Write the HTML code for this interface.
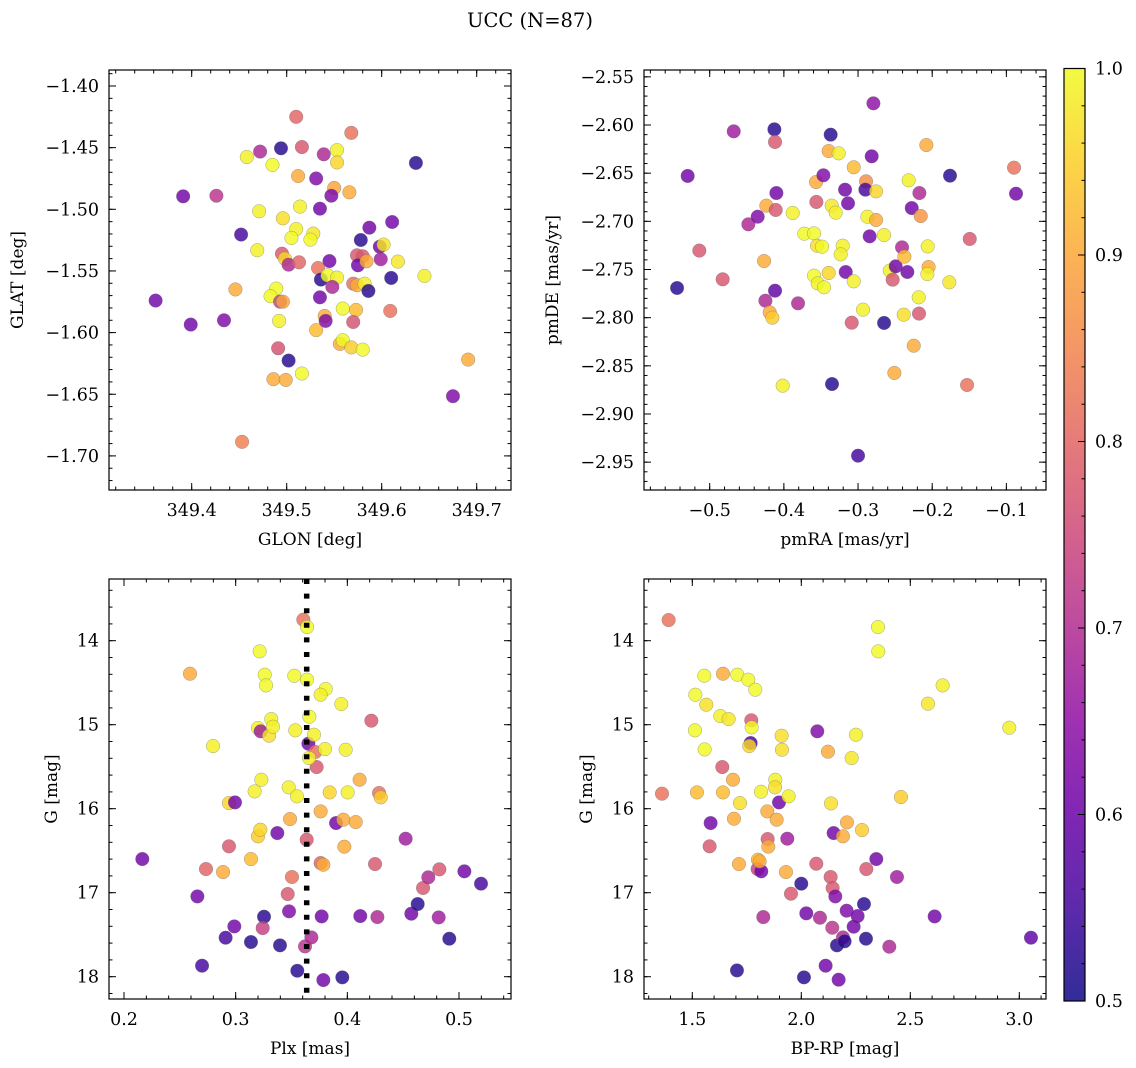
<!DOCTYPE html>
<html><head><meta charset="utf-8"><style>
html,body{margin:0;padding:0;background:#fff;}
svg{display:block;font-family:"DejaVu Serif","Liberation Serif",serif;}
</style></head><body>
<svg id="fig" width="1136" height="1068" viewBox="0 0 1136 1068" xmlns="http://www.w3.org/2000/svg">
<defs>
<linearGradient id="plasmaGrad" x1="0" y1="1" x2="0" y2="0">
<stop offset="0" stop-color="rgb(13,8,135)"/><stop offset="0.1" stop-color="rgb(65,4,157)"/><stop offset="0.2" stop-color="rgb(106,0,168)"/><stop offset="0.3" stop-color="rgb(143,13,164)"/><stop offset="0.4" stop-color="rgb(177,42,144)"/><stop offset="0.5" stop-color="rgb(204,71,120)"/><stop offset="0.6" stop-color="rgb(225,100,98)"/><stop offset="0.7" stop-color="rgb(242,132,75)"/><stop offset="0.8" stop-color="rgb(252,166,54)"/><stop offset="0.9" stop-color="rgb(252,206,37)"/><stop offset="1" stop-color="rgb(240,249,33)"/>
</linearGradient>
</defs>
<text x="530" y="27" text-anchor="middle" font-size="19.5">UCC (N=87)</text>
</svg>
<script>
// ---- Panel 1: GLON vs GLAT ----
const p1Glon=[349.391,349.426,349.362,349.399,349.434,349.446,349.452,349.453,349.458,349.472,349.485,349.471,349.469,349.494,349.510,349.516,349.512,349.531,349.539,349.553,349.553,349.568,349.550,349.547,349.566,349.514,349.535,349.496,349.510,349.505,349.528,349.525,349.495,349.498,349.502,349.513,349.545,349.533,349.536,349.543,349.553,349.548,349.535,349.489,349.483,349.493,349.496,349.492,349.491,349.502,349.516,349.486,349.499,349.531,349.540,349.541,349.559,349.573,349.570,349.556,349.559,349.568,349.580,349.570,349.574,349.582,349.586,349.574,349.580,349.575,349.584,349.578,349.587,349.598,349.602,349.599,349.611,349.617,349.610,349.609,349.636,349.645,349.675,349.691];
const p1Glat=[-1.4895,-1.489,-1.574,-1.5935,-1.590,-1.565,-1.5205,-1.6886,-1.4576,-1.4532,-1.464,-1.5016,-1.5332,-1.4505,-1.425,-1.4495,-1.473,-1.475,-1.4554,-1.452,-1.462,-1.438,-1.4827,-1.489,-1.4862,-1.4978,-1.4995,-1.5073,-1.516,-1.5232,-1.5197,-1.5246,-1.536,-1.540,-1.5449,-1.543,-1.542,-1.5476,-1.557,-1.5535,-1.5554,-1.563,-1.5714,-1.5643,-1.5705,-1.5749,-1.5749,-1.5905,-1.6127,-1.6227,-1.6332,-1.6378,-1.6384,-1.598,-1.5865,-1.5905,-1.5805,-1.5816,-1.5914,-1.6092,-1.6062,-1.612,-1.6138,-1.5603,-1.5616,-1.5603,-1.5662,-1.5373,-1.5381,-1.5454,-1.5422,-1.5249,-1.5149,-1.5303,-1.5286,-1.5405,-1.5103,-1.5424,-1.5557,-1.5824,-1.4624,-1.554,-1.6516,-1.6219];
const p1Prob=[0.6,0.7,0.6,0.6,0.62,0.88,0.55,0.82,0.96,0.68,0.97,0.96,0.96,0.52,0.78,0.76,0.88,0.62,0.68,0.96,0.93,0.8,0.87,0.62,0.88,0.96,0.6,0.94,0.96,0.97,0.95,0.97,0.76,0.93,0.68,0.78,0.6,0.8,0.52,0.97,0.96,0.68,0.6,0.97,0.97,0.72,0.87,0.96,0.75,0.52,0.97,0.88,0.88,0.9,0.88,0.62,0.97,0.9,0.75,0.88,0.97,0.92,0.97,0.8,0.88,0.96,0.52,0.76,0.76,0.6,0.88,0.52,0.6,0.6,0.95,0.66,0.6,0.95,0.52,0.8,0.52,0.96,0.62,0.88];
// ---- Panel 2: pmRA vs pmDE ----
const p2Pmra=[-0.544,-0.5297,-0.514,-0.4825,-0.4676,-0.4479,-0.4353,-0.4236,-0.411,-0.4101,-0.4128,-0.4119,-0.4267,-0.4119,-0.4249,-0.4191,-0.4155,-0.4016,-0.3809,-0.3881,-0.3724,-0.3593,-0.3566,-0.3562,-0.3553,-0.3485,-0.3467,-0.3593,-0.3544,-0.3458,-0.3396,-0.3396,-0.3261,-0.3369,-0.3351,-0.3355,-0.3301,-0.3207,-0.3234,-0.3175,-0.3135,-0.3166,-0.3058,-0.3058,-0.3085,-0.3,-0.2933,-0.2892,-0.2901,-0.2757,-0.2874,-0.2757,-0.2843,-0.2816,-0.2793,-0.2649,-0.2649,-0.2573,-0.2533,-0.2492,-0.251,-0.2407,-0.2375,-0.2335,-0.2384,-0.2317,-0.2276,-0.2173,-0.2155,-0.2249,-0.2182,-0.2178,-0.2079,-0.2061,-0.2049,-0.2065,-0.1769,-0.176,-0.153,-0.1494,-0.0897,-0.087];
const p2Pmde=[-2.7692,-2.6529,-2.7304,-2.7602,-2.6066,-2.7031,-2.6952,-2.6837,-2.6882,-2.6706,-2.6045,-2.6176,-2.7412,-2.772,-2.7824,-2.7945,-2.8,-2.8706,-2.7851,-2.6913,-2.7128,-2.7125,-2.6592,-2.6799,-2.7253,-2.7263,-2.6522,-2.7564,-2.7644,-2.7685,-2.7536,-2.627,-2.6294,-2.61,-2.8689,-2.6837,-2.691,-2.7253,-2.7343,-2.6671,-2.6813,-2.7526,-2.6439,-2.7623,-2.8052,-2.9433,-2.7917,-2.6585,-2.6671,-2.6689,-2.6952,-2.6986,-2.7156,-2.6325,-2.5775,-2.7142,-2.8055,-2.7512,-2.7606,-2.7467,-2.8574,-2.727,-2.7367,-2.7526,-2.7969,-2.6574,-2.6862,-2.6706,-2.6945,-2.8291,-2.7789,-2.7958,-2.6208,-2.726,-2.7474,-2.7547,-2.7633,-2.6526,-2.8699,-2.7183,-2.6443,-2.6713];
const p2Prob=[0.52,0.6,0.76,0.76,0.66,0.68,0.62,0.88,0.76,0.6,0.52,0.76,0.88,0.58,0.68,0.88,0.92,0.96,0.68,0.96,0.97,0.97,0.88,0.76,0.94,0.97,0.62,0.97,0.96,0.97,0.93,0.88,0.96,0.52,0.52,0.95,0.96,0.96,0.96,0.6,0.6,0.6,0.9,0.96,0.76,0.55,0.96,0.84,0.55,0.93,0.96,0.88,0.6,0.6,0.64,0.96,0.52,0.96,0.76,0.6,0.88,0.68,0.9,0.6,0.94,0.96,0.6,0.68,0.85,0.88,0.96,0.76,0.88,0.96,0.88,0.96,0.95,0.52,0.8,0.76,0.8,0.6];
// ---- Panel 3: Plx vs G ----
const p3Plx=[0.2164,0.2591,0.2657,0.2699,0.2734,0.2797,0.2887,0.291,0.294,0.2994,0.294,0.2988,0.3137,0.3137,0.317,0.32,0.32,0.3221,0.3215,0.323,0.3224,0.326,0.3272,0.3254,0.3242,0.3319,0.3299,0.3334,0.3373,0.3397,0.3475,0.3487,0.3466,0.3478,0.3504,0.3525,0.3534,0.3552,0.3549,0.3606,0.3639,0.3639,0.3621,0.3651,0.366,0.3725,0.3713,0.3636,0.3678,0.3701,0.3657,0.3806,0.3761,0.38,0.3761,0.3761,0.3785,0.377,0.3785,0.3842,0.3946,0.3899,0.3964,0.3973,0.3955,0.3985,0.4003,0.4075,0.411,0.4116,0.4215,0.4248,0.4269,0.4284,0.4299,0.4522,0.4573,0.463,0.4678,0.4725,0.4824,0.4818,0.4913,0.5048,0.5197];
const p3G=[16.599,14.393,17.044,17.869,16.718,15.254,16.754,17.536,15.933,15.925,16.448,17.401,16.599,17.587,15.794,15.04,16.329,16.25,14.127,15.655,15.079,14.405,14.532,17.286,17.421,14.933,15.131,15.024,16.29,17.627,15.746,16.123,17.016,17.222,16.813,14.417,15.067,17.929,15.853,13.75,13.837,14.464,17.639,15.226,14.905,15.504,15.325,16.369,17.532,15.119,15.397,14.575,14.643,15.29,16.032,16.647,16.667,17.282,18.04,15.806,14.754,16.171,16.131,16.452,18.008,15.298,15.806,16.159,15.655,17.278,14.952,16.659,17.29,15.813,15.865,16.357,17.25,17.135,16.944,16.817,16.722,17.294,17.548,16.746,16.893];
const p3Prob=[0.6,0.88,0.6,0.55,0.78,0.96,0.88,0.55,0.93,0.6,0.76,0.6,0.9,0.52,0.96,0.96,0.92,0.93,0.97,0.96,0.66,0.97,0.97,0.52,0.72,0.96,0.94,0.96,0.6,0.52,0.96,0.88,0.76,0.62,0.8,0.97,0.96,0.52,0.96,0.8,0.97,0.97,0.7,0.6,0.97,0.76,0.8,0.76,0.68,0.96,0.96,0.97,0.96,0.96,0.88,0.78,0.88,0.6,0.6,0.93,0.96,0.6,0.88,0.88,0.52,0.96,0.96,0.88,0.88,0.6,0.76,0.76,0.68,0.8,0.92,0.66,0.6,0.52,0.76,0.68,0.76,0.66,0.52,0.6,0.55];
const p3PlxMedian=[0.3636];
// ---- Panel 4: BP-RP vs G ----
const p4Bprp=[1.3914,1.3609,1.5138,1.555,1.5642,1.5122,1.5566,1.5214,1.5841,1.5795,1.6407,1.6284,1.6667,1.6376,1.6407,1.6865,1.6911,1.7064,1.7187,1.7141,1.7049,1.7569,1.789,1.7706,1.7722,1.7676,1.7615,1.815,1.8012,1.7997,1.8165,1.8089,1.8257,1.844,1.8456,1.8486,1.8807,1.8792,1.8869,1.8976,1.9098,1.9113,1.9419,1.9358,1.9297,1.9526,1.9999,2.0229,2.0122,2.0688,2.0734,2.0856,2.1116,2.1223,2.1361,2.1346,2.1437,2.1483,2.156,2.1422,2.1636,2.1713,2.1911,2.1988,2.1911,2.2095,2.208,2.2309,2.2508,2.2584,2.2401,2.2783,2.2875,2.2966,2.2982,2.344,2.3517,2.3532,2.4037,2.4388,2.4572,2.581,2.6116,2.6483,2.9541,3.0535];
const p4G=[13.754,15.821,14.643,14.417,14.762,15.067,15.294,15.806,16.171,16.448,14.393,14.897,14.933,15.504,15.806,15.655,16.119,14.405,15.933,16.659,17.925,14.464,14.583,14.948,15.032,15.218,15.254,15.798,16.607,16.718,16.746,16.627,17.29,16.032,16.361,16.452,15.655,15.746,16.131,15.925,15.131,15.298,15.853,16.357,16.754,17.012,16.893,17.246,18.008,16.655,15.079,17.298,17.869,15.321,15.937,16.813,16.944,16.29,17.044,17.417,17.627,18.036,17.532,17.579,16.329,16.163,17.214,15.397,15.119,17.278,17.405,16.254,17.135,17.548,16.718,16.599,13.837,14.127,17.643,16.813,15.861,14.75,17.282,14.532,15.036,17.536];
const p4Prob=[0.8,0.8,0.97,0.97,0.94,0.97,0.97,0.9,0.6,0.76,0.88,0.96,0.95,0.76,0.9,0.88,0.88,0.97,0.94,0.88,0.52,0.97,0.97,0.76,0.97,0.55,0.93,0.96,0.9,0.72,0.6,0.88,0.68,0.88,0.76,0.88,0.96,0.94,0.88,0.6,0.94,0.94,0.96,0.66,0.88,0.76,0.52,0.6,0.52,0.76,0.62,0.68,0.6,0.88,0.94,0.76,0.76,0.6,0.62,0.7,0.52,0.6,0.68,0.52,0.88,0.88,0.62,0.95,0.96,0.6,0.6,0.92,0.52,0.52,0.76,0.6,0.97,0.97,0.68,0.66,0.92,0.95,0.6,0.96,0.96,0.58];
// ---- Tick labels ----
const p1XTicks=[349.4,349.5,349.6,349.7];
const p1XTickLabels=["349.4","349.5","349.6","349.7"];
const p1YTicks=[-1.40,-1.45,-1.50,-1.55,-1.60,-1.65,-1.70];
const p1YTickLabels=["−1.40","−1.45","−1.50","−1.55","−1.60","−1.65","−1.70"];
const p2XTicks=[-0.5,-0.4,-0.3,-0.2,-0.1];
const p2XTickLabels=["−0.5","−0.4","−0.3","−0.2","−0.1"];
const p2YTicks=[-2.55,-2.60,-2.65,-2.70,-2.75,-2.80,-2.85,-2.90,-2.95];
const p2YTickLabels=["−2.55","−2.60","−2.65","−2.70","−2.75","−2.80","−2.85","−2.90","−2.95"];
const p3XTicks=[0.2,0.3,0.4,0.5];
const p3XTickLabels=["0.2","0.3","0.4","0.5"];
const gTicks=[14,15,16,17,18];
const gTickLabels=["14","15","16","17","18"];
const p4XTicks=[1.5,2.0,2.5,3.0];
const p4XTickLabels=["1.5","2.0","2.5","3.0"];
const cbTicks=[0.5,0.6,0.7,0.8,0.9,1.0];
const cbTickLabels=["0.5","0.6","0.7","0.8","0.9","1.0"];

const NS="http://www.w3.org/2000/svg";
const svg=document.getElementById('fig');
function mk(tag,attrs,parent){const e=document.createElementNS(NS,tag);for(const k in attrs)e.setAttribute(k,attrs[k]);(parent||svg).appendChild(e);return e;}
const PL=[[13,8,135],[65,4,157],[106,0,168],[143,13,164],[177,42,144],[204,71,120],[225,100,98],[242,132,75],[252,166,54],[252,206,37],[240,249,33]];
function cmap(p){let t=(p-0.5)/0.47;t=Math.max(0,Math.min(1,t));const f=t*10;const i=Math.min(9,Math.floor(f));const r=f-i;const a=PL[i],b=PL[i+1];return `rgb(${Math.round(a[0]+(b[0]-a[0])*r)},${Math.round(a[1]+(b[1]-a[1])*r)},${Math.round(a[2]+(b[2]-a[2])*r)})`;}
function lin(d0,d1,r0,r1){return v=>r0+(v-d0)/(d1-d0)*(r1-r0);}

function panel(cfg){
  const g=mk('g',{});
  
  
  const {x0,x1,y0,y1}=cfg;
  const sx=lin(cfg.xd[0],cfg.xd[1],x0,x1);
  const sy=lin(cfg.yd[0],cfg.yd[1],y0,y1);
  const clipId='clip-'+cfg.name;
  const cp=mk('clipPath',{id:clipId},g);
  mk('rect',{x:x0,y:y0,width:x1-x0,height:y1-y0},cp);
  const pts=mk('g',{'clip-path':`url(#${clipId})`},g);
  
  
  for(let i=0;i<cfg.xs.length;i++){
    const c=mk('circle',{cx:sx(cfg.xs[i]).toFixed(2),cy:sy(cfg.ys[i]).toFixed(2),r:6.8,fill:cmap(cfg.cs[i]),'fill-opacity':0.82,stroke:'#6b6b6b','stroke-opacity':0.6,'stroke-width':0.5},pts);
    
    
  }
  if(cfg.vline){
    for(const v of cfg.vline){
      const l=mk('line',{x1:sx(v),x2:sx(v),y1:y0,y2:y1,stroke:'#000','stroke-width':5.5,'stroke-dasharray':'5 9.6'},pts);
      
      
    }
  }
  const tg=mk('g',{stroke:'#000','stroke-width':1},g);
  function minorList(d,step){const lo=Math.min(d[0],d[1]),hi=Math.max(d[0],d[1]);const out=[];for(let v=Math.ceil(lo/step-1e-6)*step;v<=hi+1e-9;v+=step)out.push(v);return out;}
  for(const v of minorList(cfg.xd,cfg.xminor)){const X=sx(v);mk('line',{x1:X,x2:X,y1:y1,y2:y1-3.5},tg);mk('line',{x1:X,x2:X,y1:y0,y2:y0+3.5},tg);}
  for(const v of minorList(cfg.yd,cfg.yminor)){const Y=sy(v);mk('line',{x1:x0,x2:x0+3.5,y1:Y,y2:Y},tg);mk('line',{x1:x1,x2:x1-3.5,y1:Y,y2:Y},tg);}
  cfg.xt.forEach((v,i)=>{const X=sx(v);mk('line',{x1:X,x2:X,y1:y1,y2:y1-7},tg);mk('line',{x1:X,x2:X,y1:y0,y2:y0+7},tg);
    const t=mk('text',{x:X,y:y1+26,'text-anchor':'middle','font-size':17.5},g);t.textContent=cfg.xtl[i];
    
    });
  cfg.yt.forEach((v,i)=>{const Y=sy(v);mk('line',{x1:x0,x2:x0+7,y1:Y,y2:Y},tg);mk('line',{x1:x1,x2:x1-7,y1:Y,y2:Y},tg);
    const t=mk('text',{x:x0-10,y:Y+6,'text-anchor':'end','font-size':17.5},g);t.textContent=cfg.ytl[i];
    
    });
  const fr=mk('rect',{x:x0,y:y0,width:x1-x0,height:y1-y0,fill:'none',stroke:'#000','stroke-width':1.2},g);
  
  
  const xl=mk('text',{x:(x0+x1)/2,y:y1+55,'text-anchor':'middle','font-size':17},g);xl.textContent=cfg.xlabel;
  
  
  const yx=x0-cfg.ylabOff,yy=(y0+y1)/2;
  const yl=mk('text',{x:yx,y:yy,'text-anchor':'middle','font-size':17,transform:`rotate(-90 ${yx} ${yy})`},g);yl.textContent=cfg.ylabel;
  
  
}

panel({name:'glon-glat-panel',x0:109,x1:511,y0:70,y1:490,xd:[349.4-(191.7-109)/950,349.4+(511-191.7)/950],yd:[-1.40+16/1233,-1.40-404/1233],
  xs:p1Glon,ys:p1Glat,cs:p1Prob,xt:p1XTicks,xtl:p1XTickLabels,yt:p1YTicks,ytl:p1YTickLabels,xminor:0.02,yminor:0.01,xlabel:'GLON [deg]',ylabel:'GLAT [deg]',ylabOff:86});
panel({name:'pmra-pmde-panel',x0:644,x1:1046,y0:70,y1:490,xd:[-0.5-65.7/741.7,-0.5+336.3/741.7],yd:[-2.60+55/963.3,-2.60-365/963.3],
  xs:p2Pmra,ys:p2Pmde,cs:p2Prob,xt:p2XTicks,xtl:p2XTickLabels,yt:p2YTicks,ytl:p2YTickLabels,xminor:0.02,yminor:0.01,xlabel:'pmRA [mas/yr]',ylabel:'pmDE [mas/yr]',ylabOff:86});
panel({name:'plx-g-panel',x0:109,x1:511,y0:579,y1:999,xd:[0.2-15/1116.7,0.2+387/1116.7],yd:[14-61.7/84,14+358.3/84],
  xs:p3Plx,ys:p3G,cs:p3Prob,xt:p3XTicks,xtl:p3XTickLabels,yt:gTicks,ytl:gTickLabels,xminor:0.02,yminor:0.2,xlabel:'Plx [mas]',ylabel:'G [mag]',ylabOff:52,vline:p3PlxMedian});
panel({name:'bprp-g-panel',x0:644,x1:1046,y0:579,y1:999,xd:[1.5-48.3/218,1.5+353.7/218],yd:[14-61.7/84,14+358.3/84],
  xs:p4Bprp,ys:p4G,cs:p4Prob,xt:p4XTicks,xtl:p4XTickLabels,yt:gTicks,ytl:gTickLabels,xminor:0.1,yminor:0.2,xlabel:'BP-RP [mag]',ylabel:'G [mag]',ylabOff:52});

(function(){
  const cx0=1064,cx1=1085,cy0=68.5,cy1=1001;
  const sy=lin(0.5,1.0,cy1,cy0);
  const g=mk('g',{});
  
  
  mk('rect',{x:cx0,y:cy0,width:cx1-cx0,height:cy1-cy0,fill:'url(#plasmaGrad)','fill-opacity':0.85},g);
  for(let v=0.52;v<1.0-1e-6;v+=0.02){const Y=sy(v);mk('line',{x1:cx1,x2:cx1-3.5,y1:Y,y2:Y,stroke:'#000','stroke-width':1},g);}
  cbTicks.forEach((v,i)=>{const Y=sy(v);mk('line',{x1:cx1,x2:cx1-7,y1:Y,y2:Y,stroke:'#000','stroke-width':1},g);
    const t=mk('text',{x:cx1+10,y:Y+6,'font-size':17.5},g);t.textContent=cbTickLabels[i];
    
    });
  mk('rect',{x:cx0,y:cy0,width:cx1-cx0,height:cy1-cy0,fill:'none',stroke:'#000','stroke-width':1.2},g);
})();
</script>
</body></html>
